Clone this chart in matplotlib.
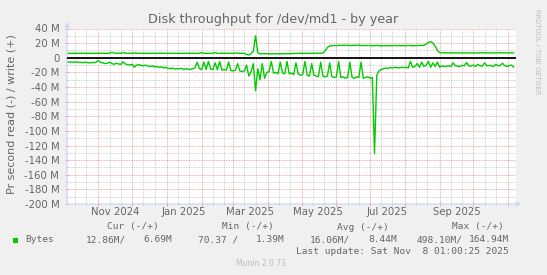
#!/usr/bin/env python3
"""
Munin style yearly disk throughput graph for /dev/md1 (read negative, write positive).
"""

import numpy as np
import pandas as pd
import matplotlib
matplotlib.use("Agg")
import matplotlib.pyplot as plt
import matplotlib.dates as mdates
import matplotlib.transforms as mtrans
from matplotlib.patches import Rectangle

# === DATA (MB/s, one sample every 2 days) ===
start_date = "2024-10-04"
step_days = 2
x_start = "2024-10-04 00:00"
x_end = "2025-11-08 01:00"

write_mb = [
    6.0, 6.1, 6.0, 6.2, 6.1, 6.0, 6.1, 6.3, 6.1, 6.0,
    6.2, 6.1, 6.0, 6.2, 6.1, 6.3, 6.2, 6.1, 6.0, 6.2,
    7.5, 6.4, 6.2, 6.3, 6.1, 7.2, 6.3, 6.1, 6.2, 6.0,
    6.8, 6.2, 6.1, 6.0, 6.3, 6.1, 6.2, 6.0, 6.1, 6.2,
    6.0, 6.1, 6.3, 6.0, 6.1, 6.2, 6.0, 6.1, 6.2, 6.0,
    6.1, 6.0, 6.2, 6.1, 6.0, 6.3, 6.1, 6.0, 6.2, 6.1,
    7.0, 6.1, 6.0, 6.2, 6.1, 6.0, 7.2, 6.1, 6.0, 6.2,
    6.1, 6.3, 6.2, 6.0, 6.1, 6.5, 6.3, 6.2, 6.0, 6.1,
    4.5, 3.8, 5.5, 9.0, 30.0, 7.0, 5.0, 5.8, 5.5, 5.6,
    5.3, 5.2, 5.5, 5.4, 5.6, 5.3, 5.5, 5.4, 5.6, 5.5,
    5.8, 5.7, 6.0, 5.9, 6.2, 6.0, 6.1, 6.0, 6.2, 6.1,
    6.3, 6.2, 6.1, 6.3, 6.4, 9.5, 14.0, 16.2, 16.5, 16.8,
    16.6, 17.0, 16.8, 17.2, 16.9, 17.0, 16.7, 16.8, 17.1, 16.9,
    17.3, 16.6, 16.8, 16.5, 16.9, 16.7, 16.4, 16.6, 16.8, 16.5,
    16.2, 16.4, 16.6, 16.5, 16.3, 16.6, 16.8, 16.5, 16.7, 16.4,
    16.6, 16.5, 16.8, 16.6, 16.4, 16.5, 16.7, 16.6, 16.8, 17.0,
    18.5, 21.0, 22.0, 20.0, 16.0, 10.0, 7.0, 6.8, 6.9, 6.7,
    6.6, 6.8, 6.5, 6.7, 6.6, 6.4, 6.5, 6.7, 6.5, 6.6,
    6.8, 6.5, 6.6, 6.7, 6.6, 6.9, 6.7, 6.6, 6.8, 6.5,
    6.7, 6.6, 6.8, 6.7, 6.5, 6.6, 6.8, 6.7, 6.6, 6.69,
]

read_mb = [
    -5.5, -6.0, -5.8, -6.2, -5.5, -6.5, -6.0, -6.8, -6.2, -6.5,
    -7.0, -6.5, -6.8, -6.0, -4.0, -6.5, -7.0, -8.0, -7.5, -6.0,
    -8.0, -9.0, -7.5, -8.5, -9.0, -5.5, -8.5, -9.5, -10.0, -9.0,
    -13.0, -10.0, -9.5, -10.5, -11.0, -10.0, -11.5, -12.0, -11.0, -12.5,
    -12.0, -13.0, -12.5, -14.0, -13.0, -14.5, -15.0, -14.0, -15.5, -15.0,
    -15.0, -14.5, -16.0, -15.0, -15.5, -16.0, -15.0, -14.0, -6.0, -15.0,
    -16.0, -6.0, -16.0, -5.0, -15.5, -16.0, -7.0, -16.5, -5.0, -17.0,
    -16.0, -17.0, -6.0, -17.5, -18.0, -17.0, -8.0, -18.0, -19.0, -18.0,
    -10.0, -25.0, -19.0, -8.0, -45.0, -15.0, -30.0, -8.0, -28.0, -20.0,
    -19.0, -5.0, -21.0, -20.0, -22.0, -6.0, -21.0, -22.0, -5.0, -22.0,
    -21.0, -23.0, -7.0, -22.0, -24.0, -23.0, -5.0, -24.0, -25.0, -8.0,
    -24.0, -25.0, -26.0, -6.0, -25.0, -26.0, -25.0, -7.0, -26.0, -27.0,
    -26.0, -5.0, -27.0, -26.0, -28.0, -27.0, -6.0, -27.0, -28.0, -26.0,
    -27.0, -6.0, -28.0, -27.0, -26.0, -28.0, -27.0, -131.0, -24.0, -18.0,
    -16.0, -15.0, -14.0, -14.5, -13.5, -14.0, -13.0, -13.5, -14.0, -13.0,
    -13.5, -13.0, -14.0, -5.0, -13.0, -12.0, -8.0, -13.0, -6.0, -12.0,
    -10.0, -5.0, -13.0, -7.0, -12.0, -6.0, -13.0, -11.0, -12.0, -11.5,
    -11.0, -12.0, -7.0, -11.0, -11.5, -12.0, -10.5, -11.0, -6.5, -11.0,
    -11.5, -10.0, -12.0, -9.0, -11.0, -11.5, -7.0, -11.0, -10.5, -11.0,
    -12.0, -9.0, -11.0, -10.5, -7.5, -11.0, -12.0, -11.0, -10.0, -12.86,
]

month_labels = ["Nov 2024", "Jan 2025", "Mar 2025", "May 2025", "Jul 2025", "Sep 2025"]
label_dates = ["2024-11-16", "2025-01-16", "2025-03-16", "2025-05-16", "2025-07-16", "2025-09-16"]

legend_heads = ["Cur (-/+)", "Min (-/+)", "Avg (-/+)", "Max (-/+)"]
legend_left = ["12.86M/", "70.37 /", "16.06M/", "498.10M/"]
legend_right = ["6.69M", "1.39M", "8.44M", "164.94M"]
last_update = "Last update: Sat Nov  8 01:00:25 2025"

# === STYLE ===
FONT = "#666666"
AXIS = "#CFD6F8"
GREEN = "#00CC00"
W, H = 547, 275

dates = pd.date_range(start_date, periods=len(write_mb), freq=f"{step_days}D")

fig = plt.figure(figsize=(W / 100, H / 100), dpi=100, facecolor="#F0F0F0")
ax = fig.add_axes([67 / W, 71 / H, 449 / W, 175.5 / H])
ax.set_facecolor("white")

ax.plot(dates, write_mb, color=GREEN, lw=1.0, zorder=3)
ax.plot(dates, read_mb, color=GREEN, lw=1.0, zorder=3)
ax.axhline(0, color="black", lw=1.3, zorder=4)

ax.set_xlim(pd.Timestamp(x_start), pd.Timestamp(x_end))
ax.set_ylim(-200, 40)

# grid
ax.set_yticks(np.arange(-200, 41, 20))
ax.set_yticks(np.arange(-200, 41, 10), minor=True)
ax.xaxis.set_major_locator(mdates.MonthLocator())
ax.xaxis.set_minor_locator(mdates.DayLocator(bymonthday=[11, 21]))
ax.xaxis.set_major_formatter(plt.NullFormatter())
ax.yaxis.set_major_formatter(plt.FuncFormatter(lambda v, p: "0" if v == 0 else f"{int(v)} M"))

ax.grid(which="major", color="#DE4F4F", alpha=0.6, ls=(0, (1, 1)), lw=0.6)
ax.grid(which="minor", color="#8F8F8F", alpha=0.5, ls=(0, (1, 1)), lw=0.6)
ax.set_axisbelow(True)

ax.tick_params(which="major", length=3, width=0.6, color="#EB9595", direction="inout",
               labelsize=7.3, labelcolor=FONT, pad=4)
ax.tick_params(which="minor", length=2, width=0.6, color="#BBBBBB", direction="inout")

for s in ax.spines.values():
    s.set_visible(False)

# axis lines with arrows
ax.annotate("", xy=(1.012, 0), xytext=(0, 0), xycoords="axes fraction",
            arrowprops=dict(arrowstyle="-|>", color=AXIS, lw=0.9, mutation_scale=7,
                            shrinkA=0, shrinkB=0), annotation_clip=False)
ax.annotate("", xy=(0, 1.037), xytext=(0, 0), xycoords="axes fraction",
            arrowprops=dict(arrowstyle="-|>", color=AXIS, lw=0.9, mutation_scale=7,
                            shrinkA=0, shrinkB=0), annotation_clip=False)

# month labels centered in the month
trans = mtrans.blended_transform_factory(ax.transData, ax.transAxes)
for lab, d in zip(month_labels, label_dates):
    ax.text(pd.Timestamp(d), -0.045, lab, transform=trans, ha="center", va="center",
            fontsize=7.3, color=FONT)

# titles
fig.text(273 / W, 1 - 19 / H, "Disk throughput for /dev/md1 - by year", ha="center", va="center",
         fontsize=9.2, color=FONT)
fig.text(12 / W, 1 - 114 / H, "Pr second read (-) / write (+)", ha="center", va="center",
         rotation=90, fontsize=8, color=FONT)
fig.text(537 / W, 1 - 52 / H, "RRDTOOL / TOBI OETIKER", ha="center", va="center",
         rotation=-90, fontsize=4.8, color="#BBBBBB")

# legend
mono = dict(family="DejaVu Sans Mono", fontsize=6.8, color=FONT, va="center")
head_x = [107, 222, 337, 452]
left_x = [86, 198, 310, 417]
right_x = [172, 285, 397, 509]
for hx, t in zip(head_x, legend_heads):
    fig.text(hx / W, 1 - 227 / H, t, ha="left", **mono)
fig.patches.append(Rectangle((13 / W, 1 - 243 / H), 5 / W, 5 / H, transform=fig.transFigure,
                             facecolor=GREEN, edgecolor="none"))
fig.text(25 / W, 1 - 240 / H, "Bytes", ha="left", **mono)
for lx, t in zip(left_x, legend_left):
    fig.text(lx / W, 1 - 240 / H, t, ha="left", **mono)
for rx, t in zip(right_x, legend_right):
    fig.text(rx / W, 1 - 240 / H, t, ha="right", **mono)
fig.text(509 / W, 1 - 252 / H, last_update, ha="right", **mono)
fig.text(261 / W, 1 - 264 / H, "Munin 2.0.73", ha="center", va="center", fontsize=5.5, color="#BBBBBB")

fig.savefig("out.png", dpi=100, facecolor=fig.get_facecolor())
